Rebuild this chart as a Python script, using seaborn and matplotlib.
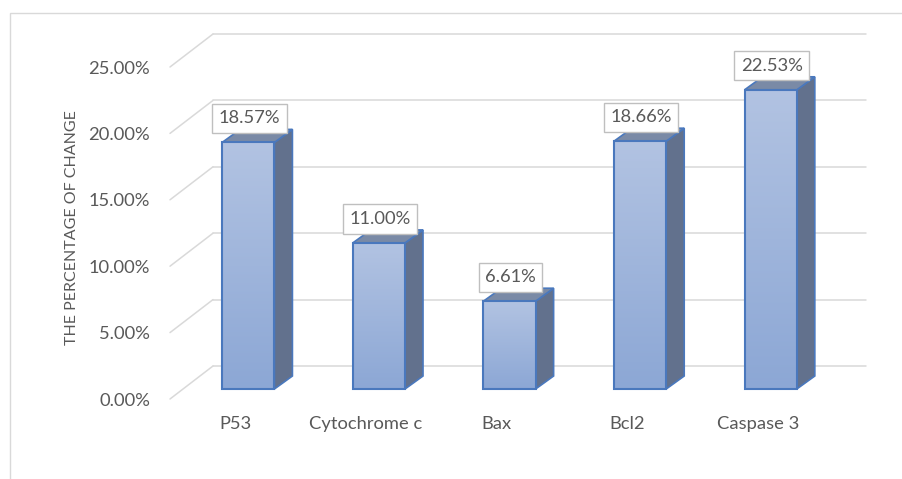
import numpy as np
import pandas as pd
import matplotlib
matplotlib.use("Agg")
import matplotlib.pyplot as plt
import seaborn as sns
from matplotlib.patches import Polygon, Rectangle
from matplotlib.transforms import ScaledTranslation

# data
markers = ["P53", "Cytochrome c", "Bax", "Bcl2", "Caspase 3"]
change_pct = [18.57, 11.00, 6.61, 18.66, 22.53]
y_ticks = [0, 5, 10, 15, 20, 25]
y_label = "THE PERCENTAGE OF CHANGE"

# styling
TEXT = "#595959"
GRID = "#d9d9d9"
EDGE = "#4a78bd"
FRONT_TOP = "#b2c3e2"
FRONT_BOT = "#8ca7d5"
SIDE = "#62718d"
TOP = "#7a8aa6"

sns.set_theme(style="white")
plt.rcParams["font.family"] = ["Lato", "DejaVu Sans"]
FS = 13.2
FS_TITLE = 11.5

W, H, DPI = 902, 479, 100
fig = plt.figure(figsize=(W / DPI, H / DPI), dpi=DPI)
fig.patch.set_facecolor("white")

# axes rectangle = plane of the column front faces (pixel box)
L, R, B, T = 183, 836, 389, 57
ax = fig.add_axes([L / W, 1 - B / H, (R - L) / W, (B - T) / H])
ax.set_facecolor("none")

df = pd.DataFrame({"marker": markers, "change": change_pct})
sns.barplot(data=df, x="marker", y="change", ax=ax, width=0.4,
            color=FRONT_BOT, saturation=1, edgecolor=EDGE, linewidth=1.5,
            zorder=4)
ax.set_xlim(-0.5, len(markers) - 0.5)
ax.set_ylim(0, 25)

# pixel -> data unit factors
px_x = (R - L) / (len(markers))
px_y = (B - T) / 25.0

# depth geometry (pixels): column depth, back wall, front plane
COL_DX, COL_DY = 18, 13
BACK_DX, BACK_DY = 30, 23
FRONT_DX, FRONT_DY = -13, -10

# gridlines: back wall + left side wall diagonals
x_lo, x_hi = -0.5, len(markers) - 0.5
for v in y_ticks:
    bx0 = x_lo + BACK_DX / px_x
    bx1 = x_hi + BACK_DX / px_x
    by = v + BACK_DY / px_y
    ax.plot([bx0, bx1], [by, by], color=GRID, lw=1.1, zorder=1, clip_on=False)
    fx = x_lo + FRONT_DX / px_x
    fy = v + FRONT_DY / px_y
    ax.plot([fx, bx0], [fy, by], color=GRID, lw=1.1, zorder=1, clip_on=False)

# 3D sides, tops and gradient fronts for each column
grad = np.linspace(0, 1, 256).reshape(-1, 1)
cmap = matplotlib.colors.LinearSegmentedColormap.from_list("front", [FRONT_BOT, FRONT_TOP])
ddx, ddy = COL_DX / px_x, COL_DY / px_y
bars = list(ax.patches)
for p in bars:
    x0, w, h = p.get_x(), p.get_width(), p.get_height()
    x1 = x0 + w
    side = Polygon([(x1, 0), (x1 + ddx, ddy), (x1 + ddx, h + ddy), (x1, h)],
                   closed=True, facecolor=SIDE, edgecolor=EDGE, lw=1.2, zorder=2.5)
    top = Polygon([(x0, h), (x1, h), (x1 + ddx, h + ddy), (x0 + ddx, h + ddy)],
                  closed=True, facecolor=TOP, edgecolor=EDGE, lw=1.2, zorder=2.6)
    ax.add_patch(side)
    ax.add_patch(top)
    side.set_clip_on(False)
    top.set_clip_on(False)
    im = ax.imshow(grad, extent=[x0, x1, 0, h], origin="lower", cmap=cmap,
                   aspect="auto", zorder=3, interpolation="bilinear")
    im.set_clip_path(p)
    p.set_facecolor("none")
    p.set_clip_on(False)

ax.set_xlim(-0.5, len(markers) - 0.5)
ax.set_ylim(0, 25)

# value labels
for p, v in zip(bars, change_pct):
    ax.annotate(f"{v:.2f}%", xy=(p.get_x() + p.get_width() / 2, v),
                xytext=(1, 24), textcoords="offset pixels",
                ha="center", va="center", fontsize=FS, color=TEXT, zorder=6,
                bbox=dict(boxstyle="square,pad=0.36", fc="white", ec="#bfbfbf", lw=1.0),
                annotation_clip=False)

# axes text
sns.despine(ax=ax, left=True, bottom=True)
ax.set_xlabel("")
ax.set_ylabel(y_label, fontsize=FS_TITLE, color=TEXT)
ax.yaxis.set_label_coords(-0.16, 0.485)
ax.set_yticks(y_ticks)
ax.set_yticklabels([f"{v:.2f}%" for v in y_ticks])
ax.tick_params(axis="y", length=0, pad=33 * 0.72, labelsize=FS, labelcolor=TEXT)
ax.tick_params(axis="x", length=0, pad=27 * 0.72, labelsize=FS, labelcolor=TEXT)
ax.grid(False)

shift_y = ScaledTranslation(0, FRONT_DY / DPI, fig.dpi_scale_trans)
for lab in ax.get_yticklabels():
    lab.set_transform(lab.get_transform() + shift_y)
shift_x = ScaledTranslation(FRONT_DX / DPI, 0, fig.dpi_scale_trans)
for lab in ax.get_xticklabels():
    lab.set_transform(lab.get_transform() + shift_x)

# chart area border
fig.add_artist(Rectangle((10 / W, -0.2), 1.2, 1 - 13 / H + 0.2, transform=fig.transFigure,
                         fill=False, ec=GRID, lw=1.0))

fig.savefig("out.png", dpi=DPI, facecolor="white")
